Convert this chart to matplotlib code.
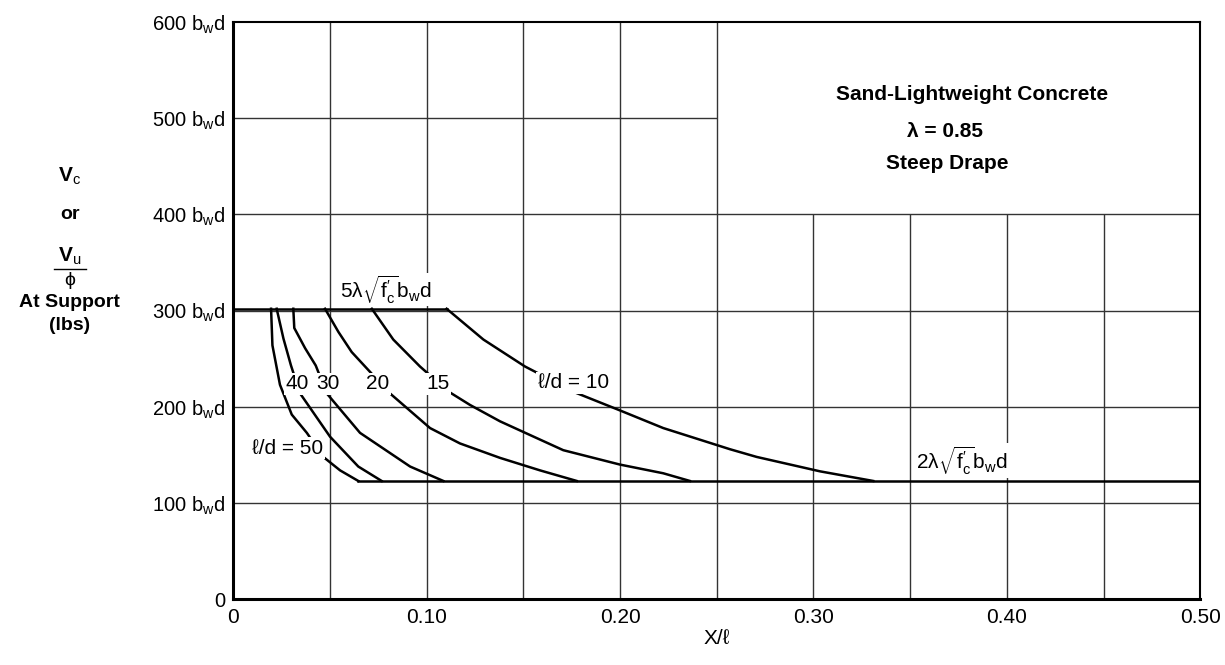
import matplotlib
matplotlib.use("Agg")
import matplotlib.pyplot as plt

plt.rcParams["font.family"] = ["Liberation Sans", "DejaVu Sans"]
plt.rcParams["mathtext.fontset"] = "custom"
plt.rcParams["mathtext.rm"] = "Liberation Sans"
plt.rcParams["mathtext.it"] = "Liberation Sans:italic"
plt.rcParams["mathtext.bf"] = "Liberation Sans:bold"

# shear limits (lbs, per b_w d)
upper_limit = 302
lower_limit = 123

# l/d curves
ld_values = [50, 40, 30, 20, 15, 10]
ld50_x = [0.0195, 0.0202, 0.0241, 0.0302, 0.0380, 0.0465, 0.0552, 0.0646]
ld50_y = [302, 264, 223, 192, 173, 148, 134, 123]
ld40_x = [0.0224, 0.0259, 0.0298, 0.0345, 0.0500, 0.0646, 0.0767]
ld40_y = [302, 271, 243, 214, 169, 138, 123]
ld30_x = [0.0310, 0.0315, 0.0371, 0.0426, 0.0483, 0.0655, 0.0914, 0.1086]
ld30_y = [302, 282, 261, 243, 214, 173, 138, 123]
ld20_x = [0.0474, 0.0543, 0.0612, 0.0681, 0.0810, 0.1017, 0.1172, 0.1379, 0.1586, 0.1776]
ld20_y = [302, 278, 257, 242, 214, 178, 162, 147, 134, 123]
ld15_x = [0.0716, 0.0827, 0.0965, 0.1112, 0.1224, 0.1379, 0.1586, 0.1706, 0.2000, 0.2223, 0.2361]
ld15_y = [302, 270, 242, 216, 202, 185, 166, 155, 140, 131, 123]
ld10_x = [0.1103, 0.1293, 0.1508, 0.1767, 0.1991, 0.2223, 0.2568, 0.2706, 0.3034, 0.3309]
ld10_y = [302, 270, 242, 215, 197, 178, 156, 148, 133, 123]

curve_labels = ["\u2113/d = 50", "40", "30", "20", "15", "\u2113/d = 10"]
label_x = [0.028, 0.0332, 0.0491, 0.0746, 0.1056, 0.1758]
label_y = [157, 224, 224, 224, 224, 225]

y_ticks = [0, 100, 200, 300, 400, 500, 600]
y_ticklabels = ["0"] + [f"{v} b$_{{\\rm w}}$d" for v in y_ticks[1:]]
x_ticks = [0, 0.10, 0.20, 0.30, 0.40, 0.50]
x_ticklabels = ["0", "0.10", "0.20", "0.30", "0.40", "0.50"]

fig = plt.figure(figsize=(12.25, 6.65), dpi=100)
ax = fig.add_axes([0.1905, 0.0988, 0.7893, 0.868])
ax.set_xlim(0, 0.5)
ax.set_ylim(0, 600)

grid_kw = dict(color="#333333", linewidth=1.0, zorder=1)
for gx in [0.05, 0.10, 0.15, 0.20, 0.25]:
    ax.vlines(gx, 0, 600, **grid_kw)
for gx in [0.30, 0.35, 0.40, 0.45]:
    ax.vlines(gx, 0, 400, **grid_kw)
for gy in [100, 200, 300, 400]:
    ax.hlines(gy, 0, 0.5, **grid_kw)
ax.hlines(500, 0, 0.25, **grid_kw)

lw = 1.8
ax.plot([0, ld10_x[0]], [upper_limit, upper_limit], color="black", lw=lw, zorder=3)
ax.plot([ld50_x[-1], 0.5], [lower_limit, lower_limit], color="black", lw=lw, zorder=3)
for xs, ys in [(ld50_x, ld50_y), (ld40_x, ld40_y), (ld30_x, ld30_y),
               (ld20_x, ld20_y), (ld15_x, ld15_y), (ld10_x, ld10_y)]:
    ax.plot(xs, ys, color="black", lw=lw, zorder=3, solid_joinstyle="round")

box = dict(facecolor="white", edgecolor="none", pad=1.0)
for txt, lx, ly in zip(curve_labels, label_x, label_y):
    ax.text(lx, ly, txt, ha="center", va="center", fontsize=15, zorder=5, bbox=box)

ax.text(0.055, 305, "5\u03bb" + r"$\sqrt{\rm f_c'}$b$_{\rm w}$d", ha="left", va="bottom",
        fontsize=15, zorder=5, bbox=dict(facecolor="white", edgecolor="none", pad=0.3))
ax.text(0.3766, 144, "2\u03bb" + r"$\sqrt{\rm f_c'}$b$_{\rm w}$d", ha="center", va="center",
        fontsize=15, zorder=5, bbox=box)

ax.text(0.382, 525, "Sand-Lightweight Concrete", ha="center", va="center",
        fontsize=15, fontweight="bold")
ax.text(0.368, 486, "\u03bb = 0.85", ha="center", va="center",
        fontsize=15, fontweight="bold")
ax.text(0.369, 453, "Steep Drape", ha="center", va="center",
        fontsize=15, fontweight="bold")

ax.set_xticks(x_ticks)
ax.set_xticklabels(x_ticklabels, fontsize=15)
ax.set_yticks(y_ticks)
ax.set_yticklabels(y_ticklabels, fontsize=14.5)
ax.tick_params(length=0, pad=6)
ax.set_xlabel("X/\u2113", fontsize=15, labelpad=2)

for s in ["left", "bottom"]:
    ax.spines[s].set_linewidth(2.2)
for s in ["top", "right"]:
    ax.spines[s].set_linewidth(1.5)

# y-axis caption
fig.text(0.057, 0.735, r"$\mathbf{V}_{\rm c}$", ha="center", va="center", fontsize=15)
fig.text(0.057, 0.677, "or", ha="center", va="center", fontsize=14, fontweight="bold")
fig.text(0.057, 0.614, r"$\mathbf{V}_{\rm u}$", ha="center", va="center", fontsize=15)
fig.add_artist(plt.Line2D([0.044, 0.070], [0.595, 0.595], color="black", lw=1.0))
fig.text(0.057, 0.578, "\u03d5", ha="center", va="center", fontsize=14)
fig.text(0.057, 0.545, "At Support", ha="center", va="center", fontsize=14, fontweight="bold")
fig.text(0.057, 0.510, "(lbs)", ha="center", va="center", fontsize=14, fontweight="bold")

fig.savefig("out.png", dpi=100)
